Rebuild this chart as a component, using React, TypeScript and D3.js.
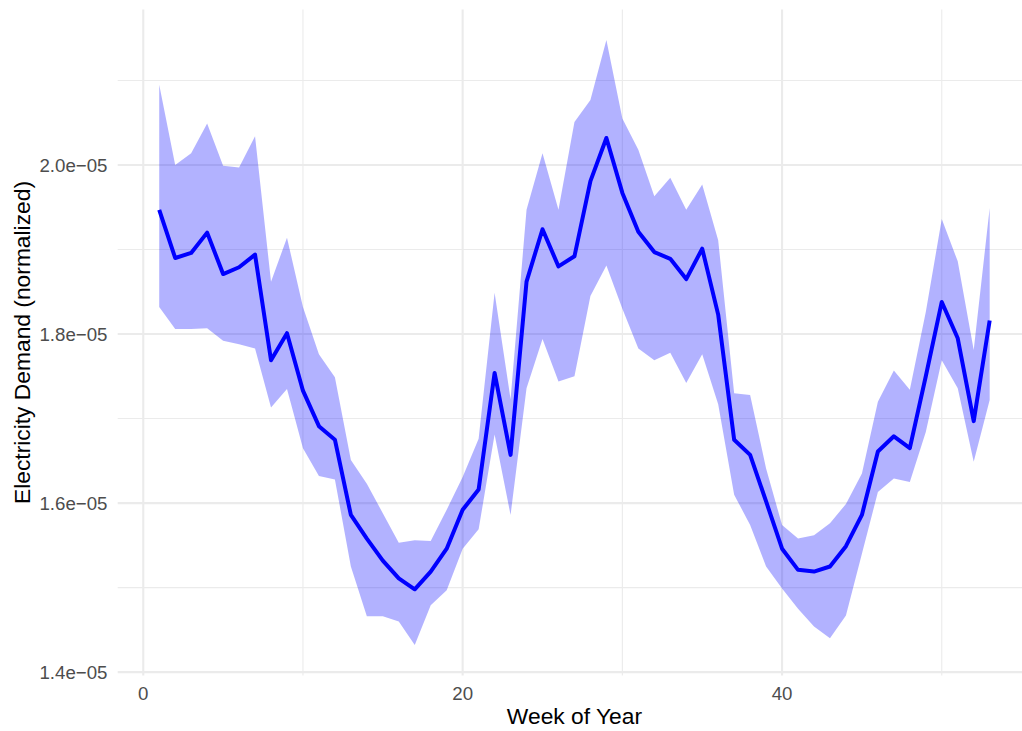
import React from "react";
import * as d3 from "d3";

const weeks = d3.range(1, 54);
const meanDemand = [
  1.947, 1.890, 1.896, 1.920, 1.871, 1.879, 1.894, 1.769, 1.801, 1.733,
  1.691, 1.675, 1.586, 1.558, 1.532, 1.511, 1.498, 1.519, 1.546, 1.592,
  1.616, 1.754, 1.657, 1.862, 1.924, 1.880, 1.892, 1.981, 2.032, 1.967,
  1.921, 1.897, 1.889, 1.865, 1.901, 1.823, 1.675, 1.657, 1.602, 1.546,
  1.521, 1.519, 1.525, 1.549, 1.586, 1.661, 1.679, 1.665, 1.750, 1.838,
  1.795, 1.697, 1.816,
];
const upperDemand = [
  2.095, 2.000, 2.014, 2.049, 1.999, 1.997, 2.034, 1.862, 1.914, 1.832,
  1.776, 1.749, 1.651, 1.623, 1.588, 1.553, 1.556, 1.555, 1.592, 1.631,
  1.676, 1.849, 1.723, 1.947, 2.014, 1.947, 2.051, 2.077, 2.148, 2.055,
  2.018, 1.963, 1.985, 1.947, 1.977, 1.911, 1.730, 1.728, 1.641, 1.574,
  1.558, 1.562, 1.576, 1.599, 1.635, 1.720, 1.757, 1.734, 1.826, 1.936,
  1.886, 1.781, 1.949,
];
const lowerDemand = [
  1.832, 1.806, 1.806, 1.807, 1.792, 1.788, 1.783, 1.713, 1.735, 1.665,
  1.632, 1.628, 1.525, 1.466, 1.466, 1.460, 1.432, 1.479, 1.497, 1.546,
  1.569, 1.681, 1.586, 1.736, 1.794, 1.744, 1.750, 1.845, 1.881, 1.830,
  1.783, 1.769, 1.778, 1.742, 1.776, 1.717, 1.610, 1.574, 1.525, 1.499,
  1.475, 1.454, 1.440, 1.467, 1.540, 1.613, 1.629, 1.625, 1.684, 1.769,
  1.736, 1.649, 1.722,
];
const xMajorTicks = [0, 20, 40];
const xMinorTicks = [10, 30, 50];
const yMajorTicks = [1.4e-5, 1.6e-5, 1.8e-5, 2.0e-5];
const yMinorTicks = [1.5e-5, 1.7e-5, 1.9e-5, 2.1e-5];

const SCALE = 1e-5;

export default function App() {
  const W = 1022, H = 731;
  const x = d3.scaleLinear().domain([-1.6, 55.6]).range([117.7, 1031.2]);
  const y = d3.scaleLinear().domain([1.396e-5, 2.184e-5]).range([675.5, 9.5]);
  const panelTop = 9.5, panelBottom = 675.5, panelLeft = 117.7, panelRight = 1031.2;

  const rows = weeks.map((w, i) => ({
    w,
    m: meanDemand[i] * SCALE,
    lo: lowerDemand[i] * SCALE,
    hi: upperDemand[i] * SCALE,
  }));

  const area = d3.area<any>().x((d) => x(d.w)).y0((d) => y(d.lo)).y1((d) => y(d.hi));
  const line = d3.line<any>().x((d) => x(d.w)).y((d) => y(d.m));

  const fmt = (v: number) => {
    const s = v.toExponential(1);
    const [mant, exp] = s.split("e");
    const e = parseInt(exp, 10);
    const sign = e < 0 ? "\u2212" : "+";
    const ab = Math.abs(e).toString().padStart(2, "0");
    return `${mant}e${sign}${ab}`;
  };

  const font = "'Liberation Sans', Arial, Helvetica, sans-serif";

  return (
    <svg
      width={W}
      height={H}
      style={{ position: "absolute", left: 0, top: 0, display: "block", background: "#fff" }}
      fontFamily={font}
    >
      <rect x={0} y={0} width={W} height={H} fill="#fff" />
      {yMinorTicks.map((t) => (
        <line key={"ym" + t} x1={panelLeft} x2={panelRight} y1={y(t)} y2={y(t)} stroke="#EBEBEB" strokeWidth={1.1} />
      ))}
      {xMinorTicks.map((t) => (
        <line key={"xm" + t} x1={x(t)} x2={x(t)} y1={panelTop} y2={panelBottom} stroke="#EBEBEB" strokeWidth={1.1} />
      ))}
      {yMajorTicks.map((t) => (
        <line key={"yM" + t} x1={panelLeft} x2={panelRight} y1={y(t)} y2={y(t)} stroke="#EBEBEB" strokeWidth={2.1} />
      ))}
      {xMajorTicks.map((t) => (
        <line key={"xM" + t} x1={x(t)} x2={x(t)} y1={panelTop} y2={panelBottom} stroke="#EBEBEB" strokeWidth={2.1} />
      ))}
      <path d={area(rows) || ""} fill="#0000FF" fillOpacity={0.3} stroke="none" />
      <path d={line(rows) || ""} fill="none" stroke="#0000FF" strokeWidth={4} strokeLinejoin="round" strokeLinecap="butt" />
      {yMajorTicks.map((t) => (
        <text key={"yl" + t} x={107.5} y={y(t)} dy="0.35em" textAnchor="end" fontSize={18.7} fill="#4D4D4D">
          {fmt(t)}
        </text>
      ))}
      {xMajorTicks.map((t) => (
        <text key={"xl" + t} x={x(t)} y={693} dy="0.35em" textAnchor="middle" fontSize={18.7} fill="#4D4D4D">
          {t}
        </text>
      ))}
      <text x={(panelLeft + panelRight) / 2} y={723.5} textAnchor="middle" fontSize={22.8} fill="#000">
        Week of Year
      </text>
      <text
        transform={`translate(29.5, ${(panelTop + panelBottom) / 2}) rotate(-90)`}
        textAnchor="middle"
        fontSize={22.8}
        fill="#000"
      >
        Electricity Demand (normalized)
      </text>
    </svg>
  );
}
